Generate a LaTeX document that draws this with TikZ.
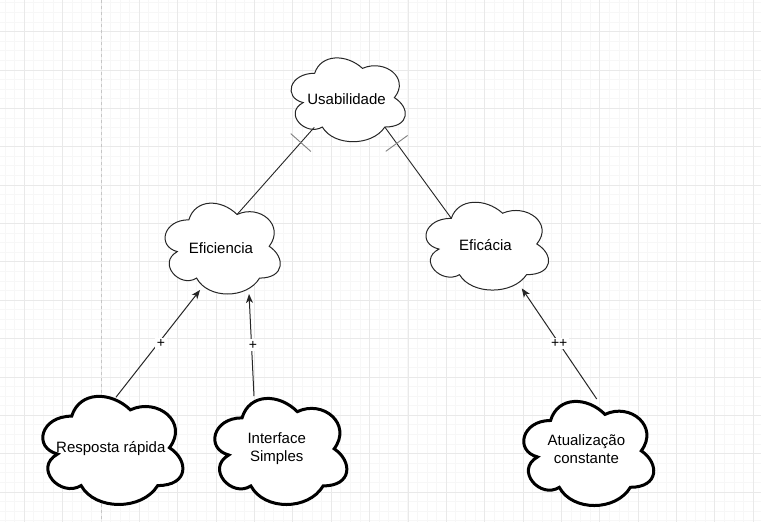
\documentclass[tikz,border=0pt]{standalone}
\usepackage{fontspec}
\setmainfont{Liberation Sans}
\usetikzlibrary{arrows.meta,decorations.markings}

% draw.io cloud outline in a unit box (y pointing down)
\newcommand{\cloudpath}{(0.25,0.25) .. controls (0.05,0.25) and (0,0.5) .. (0.16,0.55)
  .. controls (0,0.66) and (0.18,0.9) .. (0.31,0.8)
  .. controls (0.4,1) and (0.7,1) .. (0.8,0.8)
  .. controls (1,0.8) and (1,0.6) .. (0.875,0.5)
  .. controls (1,0.3) and (0.8,0.1) .. (0.625,0.2)
  .. controls (0.5,0.05) and (0.3,0.05) .. (0.25,0.25) -- cycle}

\tikzset{
  minorgrid/.style={draw=gray!6, line width=1pt},
  majorgrid/.style={draw=gray!17, line width=1pt},
  pagebreak/.style={draw=gray!45, line width=1pt, dash pattern=on 3pt off 3pt},
  cloudthin/.style={draw=black!85, line width=1pt, fill=white},
  cloudthick/.style={draw=black, line width=3pt, fill=white},
  cloudtext/.style={font=\fontsize{15}{18}\selectfont, align=center, inner sep=0pt},
  tickend/.style={draw=black!85, line width=0.9pt, postaction={decorate},
    decoration={markings, mark=at position -20pt with {\draw[gray, line width=0.9pt] (0,-13.5pt) -- (0,13.5pt);}}},
  arr/.style={draw=black!85, line width=1pt, -{Stealth[length=9pt,width=7pt,inset=2.5pt]}},
  lbl/.style={fill=white, font=\fontsize{14}{16}\selectfont, inner sep=1.5pt}
}

\begin{document}
\begin{tikzpicture}[x=1pt,y=-1pt]
	\fill[white] (0,0) rectangle (761,522);
	\useasboundingbox (0,0) rectangle (761,522);

	% grid
	\foreach \i in {0,...,79} \draw[minorgrid] ({5.1+9.5925*\i},0) -- ({5.1+9.5925*\i},522);
	\foreach \i in {0,...,54} \draw[minorgrid] (0,{2.92+9.5925*\i}) -- (761,{2.92+9.5925*\i});
	\foreach \i in {0,...,19} \draw[majorgrid] ({24.3+38.37*\i},0) -- ({24.3+38.37*\i},522);
	\foreach \i in {0,...,13} \draw[majorgrid] (0,{31.7+38.37*\i}) -- (761,{31.7+38.37*\i});
	\draw[pagebreak] (101.2,0) -- (101.2,522);

	% Usabilidade
	\begin{scope}[shift={(282.8,48.8)}, x=127.5pt, y=-97.8pt]
		\draw[cloudthin] \cloudpath;
		\node[cloudtext] (usab) at (0.5,0.51) {Usabilidade};
		\coordinate (usab-l) at (0.247,0.803);
		\coordinate (usab-r) at (0.8,0.8);
	\end{scope}

	% Eficiencia
	\begin{scope}[shift={(156.7,193.3)}, x=128.6pt, y=-106pt]
		\draw[cloudthin] \cloudpath;
		\node[cloudtext] (efic) at (0.5,0.52) {Eficiencia};
		\coordinate (efic-t) at (0.625,0.2);
		\coordinate (efic-b1) at (0.337,0.912);
		\coordinate (efic-b2) at (0.718,0.95);
	\end{scope}

	% Eficácia
	\begin{scope}[shift={(417.1,192.7)}, x=136.8pt, y=-102.5pt]
		\draw[cloudthin] \cloudpath;
		\node[cloudtext] (efca) at (0.5,0.51) {Eficácia};
		\coordinate (efca-t) at (0.25,0.25);
		\coordinate (efca-b) at (0.765,0.933);
	\end{scope}

	% Resposta rápida
	\begin{scope}[shift={(32.6,384.6)}, x=156.4pt, y=-126.2pt]
		\draw[cloudthick] \cloudpath;
		\node[cloudtext] (resp) at (0.5,0.51) {Resposta rápida};
		\coordinate (resp-t) at (0.533,0.1);
	\end{scope}

	% Interface Simples
	\begin{scope}[shift={(205.2,386.9)}, x=147.4pt, y=-123.8pt]
		\draw[cloudthick] \cloudpath;
		\node[cloudtext] (intf) at (0.485,0.5) {Interface\\Simples};
		\coordinate (intf-t) at (0.331,0.074);
	\end{scope}

	% Atualização constante
	\begin{scope}[shift={(514.3,390.1)}, x=145.1pt, y=-121.5pt]
		\draw[cloudthick] \cloudpath;
		\node[cloudtext] (atua) at (0.497,0.485) {Atualização\\constante};
		\coordinate (atua-t) at (0.568,0.073);
	\end{scope}

	% connectors
	\draw[tickend] (efic-t) -- (usab-l);
	\draw[tickend] (efca-t) -- (usab-r);

	\draw[arr] (resp-t) -- node[lbl, xshift=3pt] {+} (efic-b1);
	\draw[arr] (intf-t) -- node[lbl, xshift=1.5pt] {+} (efic-b2);
	\draw[arr] (atua-t) -- node[lbl] {++} (efca-b);
\end{tikzpicture}
\end{document}
